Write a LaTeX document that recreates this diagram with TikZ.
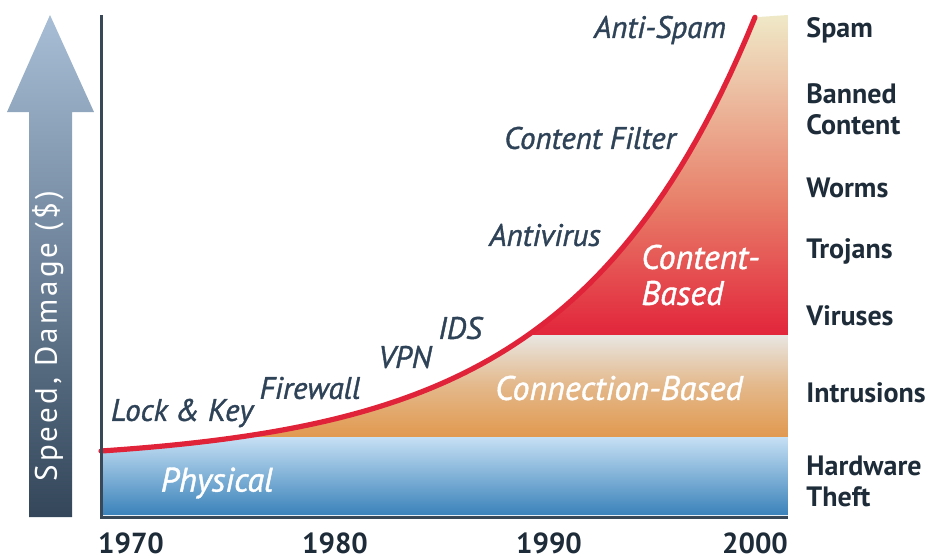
\documentclass[tikz,border=0pt]{standalone}
\usepackage{fontspec}
\setmainfont{PT Sans}
\usetikzlibrary{positioning}

\definecolor{axisslate}{HTML}{394856}
\definecolor{defenseink}{HTML}{2F4358}
\definecolor{threatink}{HTML}{1E2C39}
\definecolor{curvered}{HTML}{E1233A}
\definecolor{contentred}{HTML}{E2253B}
\definecolor{contentsalmon}{HTML}{E8806A}
\definecolor{contentcream}{HTML}{EFE9C8}
\definecolor{connlight}{HTML}{E8E6E2}
\definecolor{connorange}{HTML}{E1994F}
\definecolor{physlight}{HTML}{C6E0F4}
\definecolor{physdark}{HTML}{3A82BA}
\definecolor{arrowlight}{HTML}{A7BED6}
\definecolor{arrowdark}{HTML}{33465A}

\begin{document}
\begin{tikzpicture}[
    x=0.5pt, y=-0.5pt,
    defense/.style={font=\itshape\addfontfeature{FakeBold=1.2}\fontsize{15.5}{17}\selectfont, text=defenseink, inner sep=0pt},
    zone/.style={font=\itshape\addfontfeature{FakeBold=1.2}\fontsize{17}{18}\selectfont, text=white, inner sep=0pt},
    threat/.style={font=\bfseries\fontsize{14}{15.5}\selectfont, text=threatink, anchor=west, align=left, inner sep=0pt},
    year/.style={font=\bfseries\fontsize{14.5}{16}\selectfont, text=threatink, inner sep=0pt},
    axisline/.style={draw=axisslate, line width=1.5pt}
]
\useasboundingbox (0,0) rectangle (951,559);

% speed / damage arrow
\shade[top color=arrowlight, bottom color=arrowdark]
    (29,517) -- (29,112) -- (7,112) -- (50,15) -- (94,112) -- (72,112) -- (72,517) -- cycle;
\node[rotate=90, text=white, inner sep=0pt,
      font=\addfontfeature{LetterSpace=10}\fontsize{15.5}{17}\selectfont] (speed) at (48,336) {Speed, Damage (\$)};

% bands below the growth curve
\begin{scope}
  \clip plot[domain=101:755, samples=80] (\x, {451-12.28*(exp(0.0055*(\x-101))-1)})
        -- (788,15) -- (788,515) -- (101,515) -- cycle;
  \shade[top color=contentcream, bottom color=contentsalmon] (101,15) rectangle (788,201);
  \shade[top color=contentsalmon, bottom color=contentred] (101,200) rectangle (788,335);
  \shade[top color=connlight, bottom color=connorange, middle color=connorange!60!connlight] (101,335) rectangle (788,437);
  \shade[top color=physlight, bottom color=physdark] (101,437) rectangle (788,515);
\end{scope}

% growth curve
\draw[curvered, line width=2.6pt, line cap=round]
    plot[domain=101:755, samples=80] (\x, {451-12.28*(exp(0.0055*(\x-101))-1)});

% axes
\coordinate (top) at (101,15);
\coordinate (origin) at (101,517);
\coordinate (end) at (788,517);
\draw[axisline] (top) -- (origin) -- (end);

% defenses along the curve
\node[defense] (lockkey) at (182,413) {Lock \& Key};
\node[defense] (firewall) at (310,388) {Firewall};
\node[defense] (vpn) at (405,357) {VPN};
\node[defense] (ids) at (460,328) {IDS};
\node[defense] (antivirus) at (545,235) {Antivirus};
\node[defense] (filter) at (590,138) {Content Filter};
\node[defense] (antispam) at (660,30) {Anti-Spam};

% band names
\node[zone] (physical) at (217,483) {Physical};
\node[zone] (connbased) at (619,388) {Connection-Based};
\node[zone, anchor=west, align=left] (contentbased) at (641,275) {Content-\\Based};

% threats
\node[threat] (spam) at (806,30) {Spam};
\node[threat] (banned) at (806,109) {Banned\\Content};
\node[threat] (worms) at (806,188) {Worms};
\node[threat] (trojans) at (806,251) {Trojans};
\node[threat] (viruses) at (806,316) {Viruses};
\node[threat] (intrusions) at (806,393) {Intrusions};
\node[threat] (hardware) at (806,481) {Hardware\\Theft};

% years
\node[year] (y1970) at (131,543) {1970};
\node[year] (y1980) at (335,543) {1980};
\node[year] (y1990) at (549,543) {1990};
\node[year] (y2000) at (755,543) {2000};
\end{tikzpicture}
\end{document}
